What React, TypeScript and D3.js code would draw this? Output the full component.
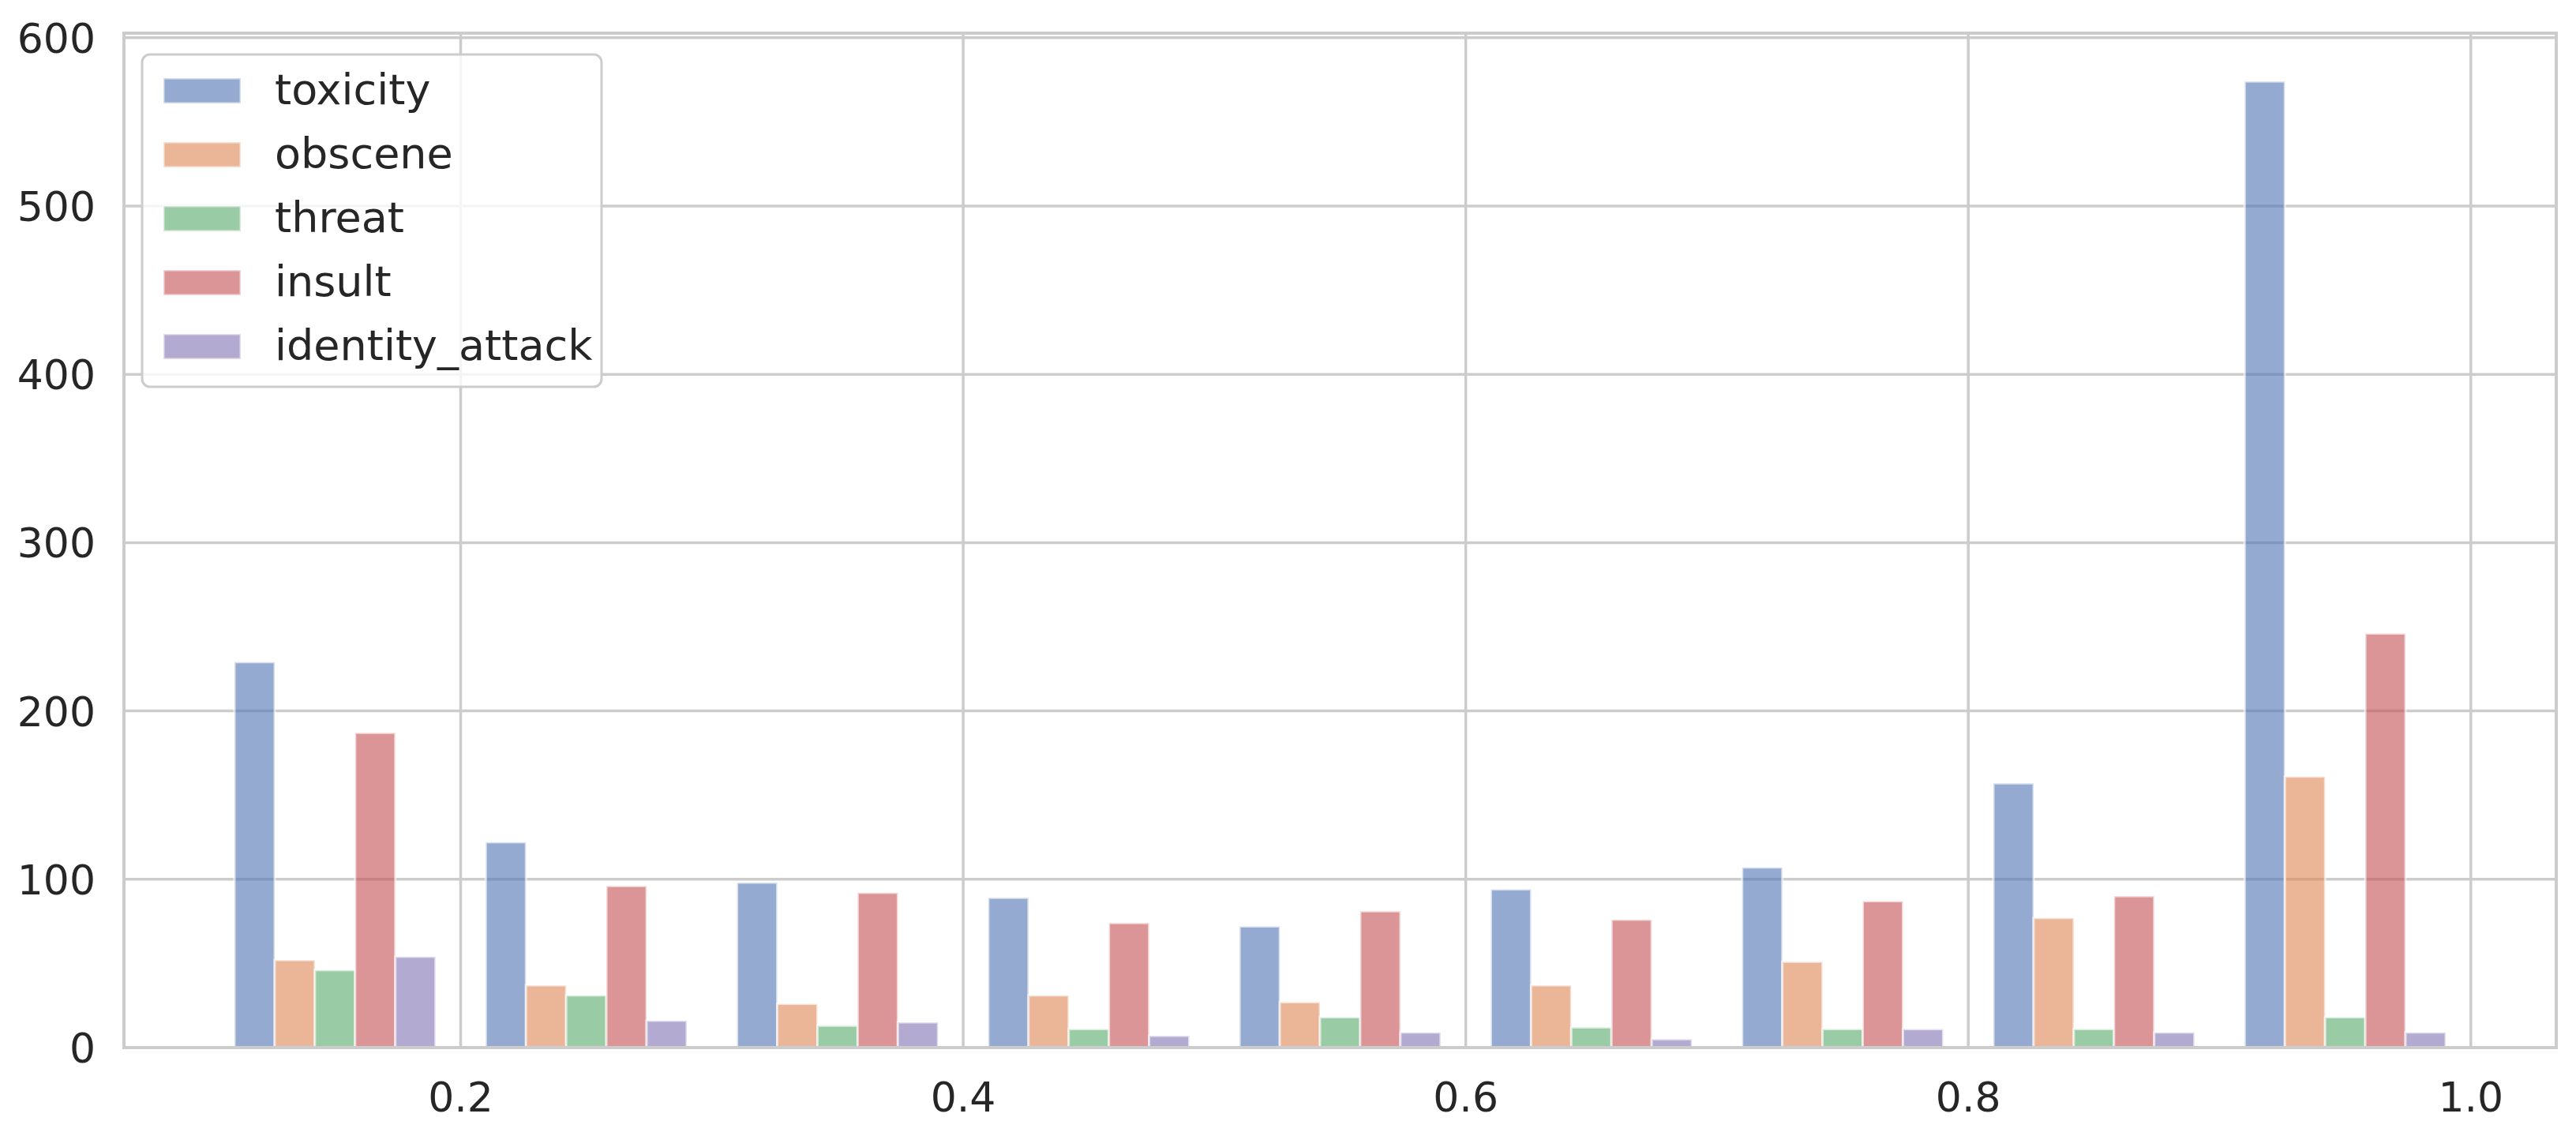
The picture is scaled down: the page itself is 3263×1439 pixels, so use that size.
import React from "react";
import * as d3 from "d3";

const binEdges = [0.1, 0.2, 0.3, 0.4, 0.5, 0.6, 0.7, 0.8, 0.9, 1.0];
const seriesNames = ["toxicity", "obscene", "threat", "insult", "identity_attack"];
const toxicity = [229, 122, 98, 89, 72, 94, 107, 157, 574];
const obscene = [52, 37, 26, 31, 27, 37, 51, 77, 161];
const threat = [46, 31, 13, 11, 18, 12, 11, 11, 18];
const insult = [187, 96, 92, 74, 81, 76, 87, 90, 246];
const identityAttack = [54, 16, 15, 7, 9, 5, 11, 9, 9];
const seriesValues = [toxicity, obscene, threat, insult, identityAttack];
const colors = ["#4C72B0", "#DD8452", "#55A868", "#C44E52", "#8172B3"];
const xTicks = [0.2, 0.4, 0.6, 0.8, 1.0];
const yTicks = [0, 100, 200, 300, 400, 500, 600];

const W = 3263;
const H = 1439;
const L = 157;
const R = 3238;
const T = 42;
const B = 1327;
const FONT = "'DejaVu Sans', sans-serif";
const TEXT = "#262626";
const GRID = "#cccccc";
const SHRINK = 0.8;

export default function App() {
  const nBins = binEdges.length - 1;
  const nS = seriesNames.length;
  const bars: { x0: number; x1: number; v: number; s: number }[] = [];
  for (let b = 0; b < nBins; b++) {
    const e0 = binEdges[b];
    const e1 = binEdges[b + 1];
    const w = e1 - e0;
    const start = e0 + (w * (1 - SHRINK)) / 2;
    const sub = (w * SHRINK) / nS;
    for (let s = 0; s < nS; s++) {
      bars.push({ x0: start + s * sub, x1: start + (s + 1) * sub, v: seriesValues[s][b], s });
    }
  }
  const minX = d3.min(bars, (d) => d.x0)!;
  const maxX = d3.max(bars, (d) => d.x1)!;
  const padX = (maxX - minX) * 0.05;
  const x = d3.scaleLinear().domain([minX - padX, maxX + padX]).range([L, R]);
  const maxY = d3.max(bars, (d) => d.v)!;
  const y = d3.scaleLinear().domain([0, maxY * 1.05]).range([B, T]);

  const legX = 180, legY = 69, legW = 582, legH = 421;
  const rowY0 = 115, rowStep = 81;

  return (
    <svg width={W} height={H} style={{ position: "absolute", left: 0, top: 0, background: "#fff" }}>
      <rect x={0} y={0} width={W} height={H} fill="#fff" />
      {yTicks.map((t) => (
        <line key={"gy" + t} x1={L} x2={R} y1={y(t)} y2={y(t)} stroke={GRID} strokeWidth={3.5} />
      ))}
      {xTicks.map((t) => (
        <line key={"gx" + t} x1={x(t)} x2={x(t)} y1={T} y2={B} stroke={GRID} strokeWidth={3.5} />
      ))}
      {bars.map((d, i) => (
        <rect
          key={"b" + i}
          x={x(d.x0)}
          y={y(d.v)}
          width={x(d.x1) - x(d.x0)}
          height={y(0) - y(d.v)}
          fill={colors[d.s]}
          fillOpacity={0.6}
          stroke="#ffffff"
          strokeOpacity={0.6}
          strokeWidth={3}
        />
      ))}
      <rect x={L} y={T} width={R - L} height={B - T} fill="none" stroke={GRID} strokeWidth={4} />
      {yTicks.map((t) => (
        <text key={"ty" + t} x={121} y={y(t) + 19} textAnchor="end" fontFamily={FONT} fontSize={52} fill={TEXT}>
          {t}
        </text>
      ))}
      {xTicks.map((t) => (
        <text key={"tx" + t} x={x(t)} y={1408} textAnchor="middle" fontFamily={FONT} fontSize={52} fill={TEXT}>
          {d3.format(".1f")(t)}
        </text>
      ))}
      <rect x={legX} y={legY} width={legW} height={legH} rx={10} ry={10} fill="#ffffff" fillOpacity={0.8} stroke={GRID} strokeWidth={3} />
      {seriesNames.map((name, i) => (
        <g key={"l" + name}>
          <rect
            x={207}
            y={rowY0 + i * rowStep - 16}
            width={98}
            height={32}
            fill={colors[i]}
            fillOpacity={0.6}
            stroke="#ffffff"
            strokeOpacity={0.6}
            strokeWidth={3}
          />
          <text x={348} y={rowY0 + i * rowStep + 17} fontFamily={FONT} fontSize={54} fill={TEXT}>
            {name}
          </text>
        </g>
      ))}
    </svg>
  );
}
